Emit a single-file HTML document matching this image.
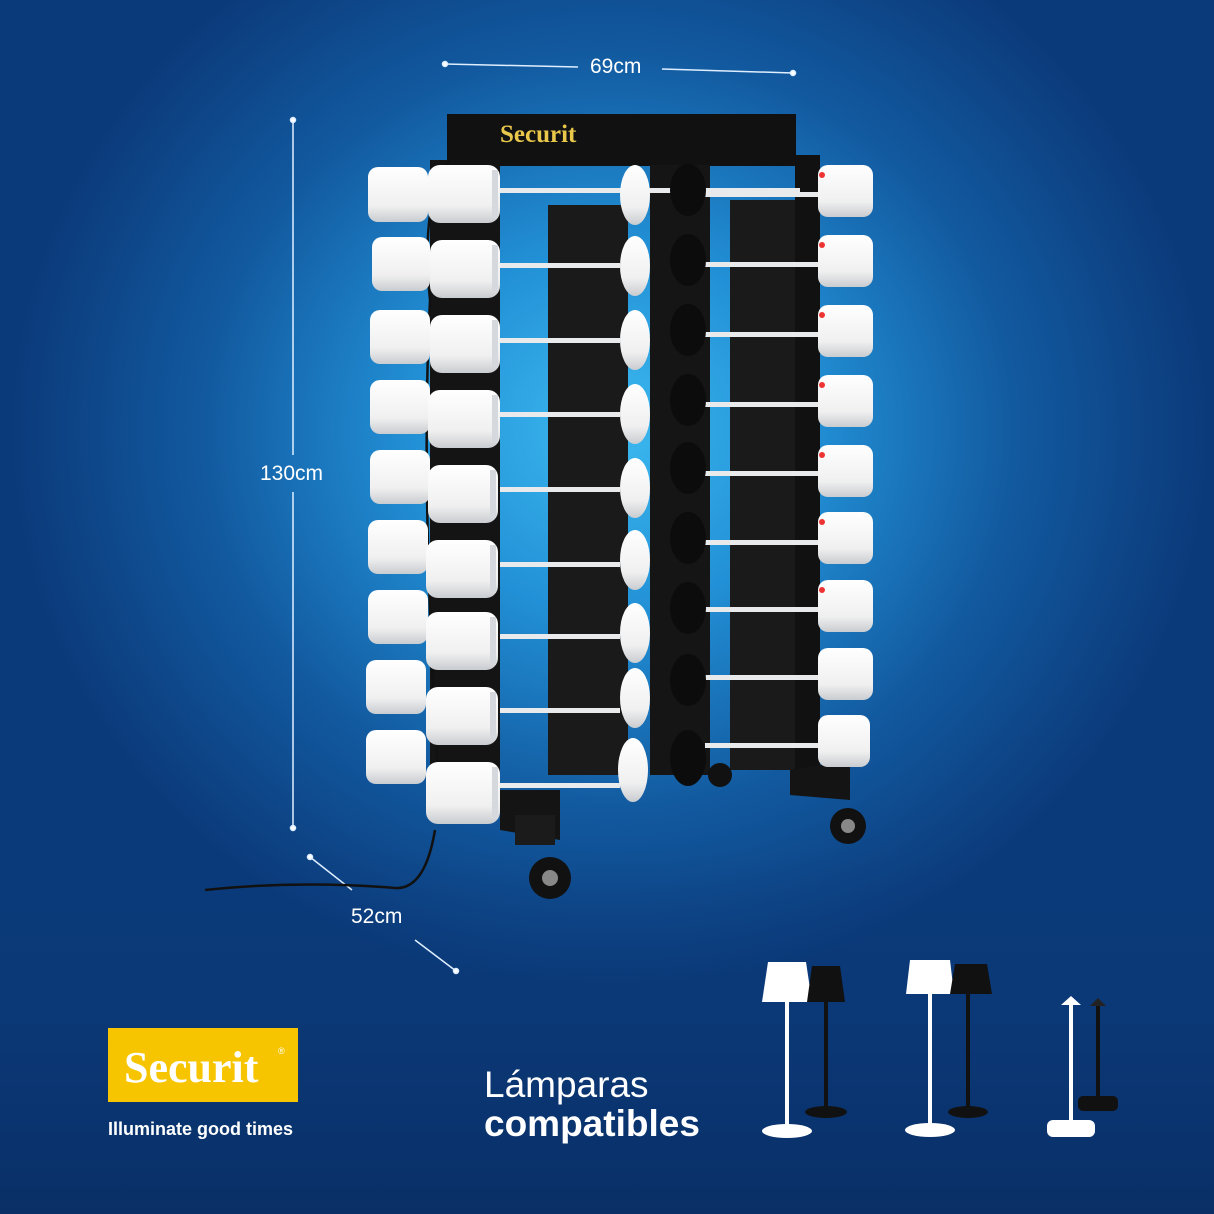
<!DOCTYPE html>
<html><head><meta charset="utf-8"><style>
html,body{margin:0;padding:0}
body{width:1214px;height:1214px;overflow:hidden;background:radial-gradient(ellipse 600px 560px at 610px 430px,#3cbaf0 0%,#2290d6 33%,#12599f 68%,#0b3a7a 100%);font-family:"Liberation Sans",sans-serif;position:relative}
svg{position:absolute;left:0;top:0}
</style></head><body>
<svg width="1214" height="1214" viewBox="0 0 1214 1214">
<defs>
<linearGradient id="sh" x1="0" y1="0" x2="0" y2="1"><stop offset="0" stop-color="#ffffff"/><stop offset="0.7" stop-color="#f0f0f0"/><stop offset="1" stop-color="#c9ccd0"/></linearGradient>
<linearGradient id="bot" x1="0" y1="0" x2="0" y2="1"><stop offset="0" stop-color="#0b3a7a" stop-opacity="0"/><stop offset="1" stop-color="#0a2f66"/></linearGradient>
</defs>
<rect x="0" y="850" width="1214" height="364" fill="url(#bot)"/>
<g stroke="#dfefff" stroke-width="1.5" fill="#fff">
<line x1="445" y1="64" x2="578" y2="67"/><line x1="662" y1="69" x2="793" y2="73"/>
<circle cx="445" cy="64" r="2.5"/><circle cx="793" cy="73" r="2.5"/>
<line x1="293" y1="120" x2="293" y2="455"/><line x1="293" y1="492" x2="293" y2="828"/>
<circle cx="293" cy="120" r="2.5"/><circle cx="293" cy="828" r="2.5"/>
<line x1="310" y1="857" x2="352" y2="890"/><line x1="415" y1="940" x2="456" y2="971"/>
<circle cx="310" cy="857" r="2.5"/><circle cx="456" cy="971" r="2.5"/>
</g>
<g fill="#fff" font-size="21">
<text x="590" y="73">69cm</text>
<text x="260" y="480">130cm</text>
<text x="351" y="923">52cm</text>
</g>
<rect x="447" y="114" width="349" height="52" fill="#111"/>
<text x="500" y="142" font-family="Liberation Serif,serif" font-size="25" font-weight="bold" fill="#e8c74a">Securit</text>
<rect x="430" y="160" width="70" height="650" fill="#141414"/>
<rect x="548" y="205" width="80" height="570" fill="#1a1a1a"/>
<rect x="650" y="165" width="60" height="610" fill="#151515"/>
<rect x="730" y="200" width="80" height="570" fill="#1a1a1a"/>
<rect x="795" y="155" width="25" height="620" fill="#111"/>
<path d="M500 790 L560 790 L560 840 L500 830Z" fill="#141414"/>
<path d="M790 770 L850 760 L850 800 L790 795Z" fill="#141414"/>
<rect x="515" y="815" width="40" height="30" fill="#1b1b1b"/>
<circle cx="550" cy="878" r="21" fill="#111"/><circle cx="550" cy="878" r="8" fill="#888"/>
<circle cx="848" cy="826" r="18" fill="#111"/><circle cx="848" cy="826" r="7" fill="#888"/>
<circle cx="720" cy="775" r="12" fill="#111"/>
<path d="M205 890 Q300 880 395 888 Q425 890 435 830" stroke="#111" stroke-width="2.5" fill="none"/>
<path d="M450 160 Q420 200 430 300 Q420 500 440 800" stroke="#111" stroke-width="2.5" fill="none"/>
<g fill="url(#sh)">
<rect x="368" y="167" width="60" height="55" rx="10"/><rect x="372" y="237" width="58" height="54" rx="10"/>
<rect x="370" y="310" width="60" height="54" rx="10"/><rect x="370" y="380" width="60" height="54" rx="10"/>
<rect x="370" y="450" width="60" height="54" rx="10"/><rect x="368" y="520" width="60" height="54" rx="10"/>
<rect x="368" y="590" width="60" height="54" rx="10"/><rect x="366" y="660" width="60" height="54" rx="10"/>
<rect x="366" y="730" width="60" height="54" rx="10"/>
</g>
<g fill="#e8eaec">
<rect x="500" y="188" width="300" height="5"/><rect x="500" y="263" width="120" height="5"/><rect x="500" y="338" width="120" height="5"/>
<rect x="500" y="412" width="120" height="5"/><rect x="500" y="487" width="120" height="5"/><rect x="500" y="562" width="120" height="5"/>
<rect x="500" y="634" width="120" height="5"/><rect x="500" y="708" width="120" height="5"/><rect x="500" y="783" width="120" height="5"/>
<rect x="705" y="192" width="115" height="5"/><rect x="705" y="262" width="115" height="5"/><rect x="705" y="332" width="115" height="5"/>
<rect x="705" y="402" width="115" height="5"/><rect x="705" y="471" width="115" height="5"/><rect x="705" y="540" width="115" height="5"/>
<rect x="705" y="607" width="115" height="5"/><rect x="705" y="675" width="115" height="5"/><rect x="705" y="743" width="115" height="5"/>
</g>
<g fill="url(#sh)">
<rect x="428" y="165" width="72" height="58" rx="12"/><rect x="430" y="240" width="70" height="58" rx="12"/>
<rect x="430" y="315" width="70" height="58" rx="12"/><rect x="428" y="390" width="72" height="58" rx="12"/>
<rect x="428" y="465" width="70" height="58" rx="12"/><rect x="426" y="540" width="72" height="58" rx="12"/>
<rect x="426" y="612" width="72" height="58" rx="12"/><rect x="426" y="687" width="72" height="58" rx="12"/>
<rect x="426" y="762" width="74" height="62" rx="12"/>
</g>
<g fill="#d5d8dc">
<rect x="492" y="170" width="6" height="48"/><rect x="492" y="245" width="6" height="48"/><rect x="492" y="320" width="6" height="48"/>
<rect x="492" y="395" width="6" height="48"/><rect x="490" y="470" width="6" height="48"/><rect x="490" y="545" width="6" height="48"/>
<rect x="490" y="617" width="6" height="48"/><rect x="490" y="692" width="6" height="48"/><rect x="492" y="767" width="6" height="52"/>
</g>
<g fill="url(#sh)">
<ellipse cx="635" cy="195" rx="15" ry="30"/><ellipse cx="635" cy="266" rx="15" ry="30"/><ellipse cx="635" cy="340" rx="15" ry="30"/>
<ellipse cx="635" cy="414" rx="15" ry="30"/><ellipse cx="635" cy="488" rx="15" ry="30"/><ellipse cx="635" cy="560" rx="15" ry="30"/>
<ellipse cx="635" cy="633" rx="15" ry="30"/><ellipse cx="635" cy="698" rx="15" ry="30"/><ellipse cx="633" cy="770" rx="15" ry="32"/>
</g>
<g fill="#0c0c0c">
<ellipse cx="688" cy="190" rx="18" ry="26"/><ellipse cx="688" cy="260" rx="18" ry="26"/><ellipse cx="688" cy="330" rx="18" ry="26"/>
<ellipse cx="688" cy="400" rx="18" ry="26"/><ellipse cx="688" cy="468" rx="18" ry="26"/><ellipse cx="688" cy="538" rx="18" ry="26"/>
<ellipse cx="688" cy="608" rx="18" ry="26"/><ellipse cx="688" cy="680" rx="18" ry="26"/><ellipse cx="688" cy="758" rx="18" ry="28"/>
</g>
<g fill="url(#sh)">
<rect x="818" y="165" width="55" height="52" rx="10"/><rect x="818" y="235" width="55" height="52" rx="10"/>
<rect x="818" y="305" width="55" height="52" rx="10"/><rect x="818" y="375" width="55" height="52" rx="10"/>
<rect x="818" y="445" width="55" height="52" rx="10"/><rect x="818" y="512" width="55" height="52" rx="10"/>
<rect x="818" y="580" width="55" height="52" rx="10"/><rect x="818" y="648" width="55" height="52" rx="10"/>
<rect x="818" y="715" width="52" height="52" rx="10"/>
</g>
<g fill="#e33">
<circle cx="822" cy="175" r="3"/><circle cx="822" cy="245" r="3"/><circle cx="822" cy="315" r="3"/><circle cx="822" cy="385" r="3"/><circle cx="822" cy="455" r="3"/><circle cx="822" cy="522" r="3"/><circle cx="822" cy="590" r="3"/>
</g>
<rect x="108" y="1028" width="190" height="74" fill="#f6c500"/>
<text x="124" y="1082" font-family="Liberation Serif,serif" font-size="44" font-weight="bold" fill="#fff">Securit</text>
<text x="278" y="1054" font-size="9" fill="#fff">®</text>
<text x="108" y="1135" font-size="18" font-weight="bold" fill="#fff">Illuminate good times</text>
<text x="484" y="1097" font-size="37" fill="#fff">Lámparas</text>
<text x="484" y="1136" font-size="37" font-weight="bold" fill="#fff">compatibles</text>
<g>
<path d="M768 962 L806 962 L812 1002 L762 1002Z" fill="#fff"/><rect x="785" y="1002" width="4" height="124" fill="#fff"/><ellipse cx="787" cy="1131" rx="25" ry="7" fill="#fff"/>
<path d="M812 966 L840 966 L845 1002 L807 1002Z" fill="#111"/><rect x="824" y="1002" width="4" height="108" fill="#111"/><ellipse cx="826" cy="1112" rx="21" ry="6" fill="#111"/>
<path d="M910 960 L950 960 L954 994 L906 994Z" fill="#fff"/><rect x="928" y="994" width="4" height="130" fill="#fff"/><ellipse cx="930" cy="1130" rx="25" ry="7" fill="#fff"/>
<path d="M955 964 L987 964 L992 994 L950 994Z" fill="#111"/><rect x="966" y="994" width="4" height="116" fill="#111"/><ellipse cx="968" cy="1112" rx="20" ry="6" fill="#111"/>
<path d="M1071 996 L1081 1005 L1061 1005Z" fill="#fff"/><rect x="1069" y="1005" width="4" height="117" fill="#fff"/><rect x="1047" y="1120" width="48" height="17" rx="6" fill="#fff"/>
<path d="M1098 998 L1106 1006 L1090 1006Z" fill="#222"/><rect x="1096" y="1006" width="4" height="92" fill="#111"/><rect x="1078" y="1096" width="40" height="15" rx="5" fill="#111"/>
</g>
</svg>
</body></html>
